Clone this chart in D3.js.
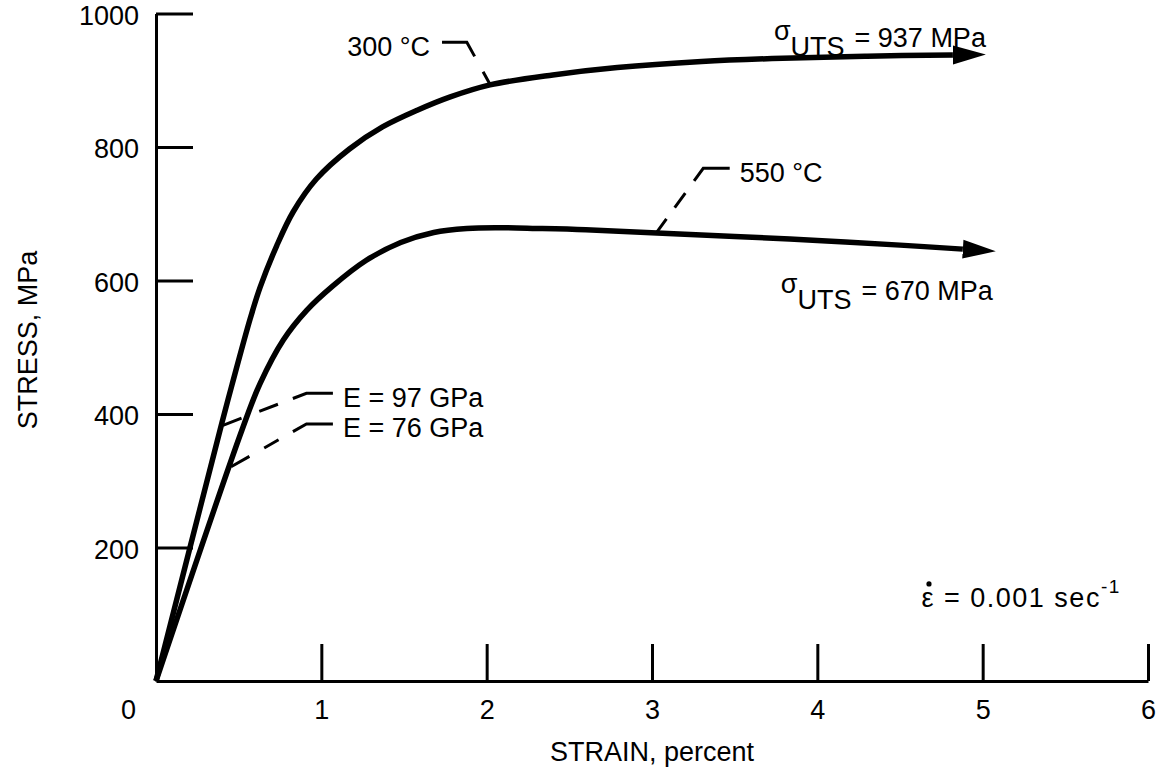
<!DOCTYPE html>
<html>
<head>
<meta charset="utf-8">
<script src="https://cdn.jsdelivr.net/npm/d3@7"></script>
<style>
  body { margin: 0; background: #fff; }
  svg { display: block; }
  text { font-family: "Liberation Sans", Arial, sans-serif; fill: #000; }
</style>
</head>
<body>
<div id="chart"></div>
<script>
// Values
var xTicks = [0, 1, 2, 3, 4, 5, 6];
var yTicks = [200, 400, 600, 800, 1000];

// 300 C curve (strain in percent, stress in MPa); last point is the arrow base
var strain300 = [0, 0.40, 0.46, 0.57, 0.63, 0.73, 0.83, 0.97, 1.17, 1.37, 1.58, 1.78, 2.02, 2.40, 2.79, 3.30, 3.79, 4.30, 4.82];
var stress300 = [0, 388, 444, 543, 590, 652, 703, 752, 797, 830, 855, 875, 893, 908, 919, 928, 933, 936, 938];

// 550 C curve
var strain550 = [0, 0.52, 0.63, 0.77, 0.91, 1.07, 1.27, 1.48, 1.68, 1.88, 2.08, 2.30, 2.60, 3.03, 3.50, 4.00, 4.50, 4.88];
var stress550 = [0, 376, 446, 511, 555, 592, 630, 657, 672, 678, 679, 678, 676, 671, 666, 660, 653, 647];

// leader lines (label end -> elbow -> curve), in data units
var leader300 = [[1.73, 957], [1.88, 957], [2.02, 894]];
var leader550 = [[3.47, 768], [3.31, 768], [3.025, 671]];
var leaderE97 = [[1.07, 431], [0.91, 431], [0.405, 383]];
var leaderE76 = [[1.07, 385], [0.91, 385], [0.454, 321]];

var W = 1161, H = 776;

var svg = d3.select('#chart').append('svg')
    .attr('width', W)
    .attr('height', H);

// scales
var x = d3.scaleLinear().domain([0, 6]).range([156, 1148]);
var y = d3.scaleLinear().domain([0, 1000]).range([681, 13.5]);

// arrow head
svg.append('defs').append('marker')
    .attr('id', 'arrow')
    .attr('markerUnits', 'userSpaceOnUse')
    .attr('viewBox', '0 -10 34 20')
    .attr('refX', 0).attr('refY', 0)
    .attr('markerWidth', 34).attr('markerHeight', 20)
    .attr('orient', 'auto')
    .append('path')
    .attr('d', 'M0,-9.5L33,0L0,9.5Z')
    .attr('fill', '#000');

// x axis, ticks pointing up into the plot
var gx = svg.append('g')
    .attr('transform', 'translate(0,' + y(0) + ')')
    .call(d3.axisBottom(x).tickValues(xTicks).tickSize(-37).tickSizeOuter(0).tickPadding(19)
        .tickFormat(d3.format('d')));

// y axis, ticks pointing right
var gy = svg.append('g')
    .attr('transform', 'translate(' + x(0) + ',0)')
    .call(d3.axisLeft(y).tickValues(yTicks).tickSize(-37).tickSizeOuter(0).tickPadding(17)
        .tickFormat(d3.format('d')));

[gx, gy].forEach(function (g) {
    g.select('.domain').attr('stroke', '#000').attr('stroke-width', 3);
    g.selectAll('.tick line').attr('stroke', '#000').attr('stroke-width', 3);
    g.selectAll('.tick text')
        .style('font-family', '"Liberation Sans", Arial, sans-serif')
        .style('font-size', '27px')
        .attr('fill', '#000');
});
gy.selectAll('.tick text').attr('dy', '0.4em');
// the zero tick has no mark, only its label sitting left of the corner
gx.selectAll('.tick').filter(function (d) { return d === 0; })
    .select('line').remove();
gx.selectAll('.tick').filter(function (d) { return d === 0; })
    .select('text').attr('x', -28);

// axis titles
svg.append('text')
    .attr('x', 652)
    .attr('y', 761)
    .attr('text-anchor', 'middle')
    .style('font-size', '27px')
    .text('STRAIN, percent');

svg.append('text')
    .attr('transform', 'translate(37,340) rotate(-90)')
    .attr('text-anchor', 'middle')
    .style('font-size', '27px')
    .text('STRESS, MPa');

// curves
var line = d3.line()
    .x(function (d) { return x(d[0]); })
    .y(function (d) { return y(d[1]); })
    .curve(d3.curveCatmullRom.alpha(0.5));

var curves = [
    d3.zip(strain300, stress300),
    d3.zip(strain550, stress550)
];

svg.selectAll('.curve')
    .data(curves)
    .enter().append('path')
    .attr('class', 'curve')
    .attr('d', line)
    .attr('fill', 'none')
    .attr('stroke', '#000')
    .attr('stroke-width', 5.5)
    .attr('stroke-linejoin', 'round')
    .attr('marker-end', 'url(#arrow)');

// leader lines
var straight = d3.line()
    .x(function (d) { return x(d[0]); })
    .y(function (d) { return y(d[1]); });

var leaders = [
    { pts: leader300, dash: '41,17.5,30' },
    { pts: leader550, dash: '42,15,18,14,30' },
    { pts: leaderE97, dash: '41,16,20,19,30' },
    { pts: leaderE76, dash: '42,16.5,16.5,17,30' }
];

svg.selectAll('.leader')
    .data(leaders)
    .enter().append('path')
    .attr('class', 'leader')
    .attr('d', function (d) { return straight(d.pts); })
    .attr('fill', 'none')
    .attr('stroke', '#000')
    .attr('stroke-width', 3)
    .attr('stroke-dasharray', function (d) { return d.dash; });

// leader labels
function label(pt, dx, dy, anchor, txt) {
    svg.append('text')
        .attr('x', x(pt[0]) + dx)
        .attr('y', y(pt[1]) + dy)
        .attr('text-anchor', anchor)
        .style('font-size', '27px')
        .text(txt);
}
label(leader300[0], -12, 14, 'end', '300 \u00B0C');
label(leader550[0], 10, 14, 'start', '550 \u00B0C');
label(leaderE97[0], 10, 14, 'start', 'E = 97 GPa');
label(leaderE76[0], 10, 13, 'start', 'E = 76 GPa');

// ultimate strength labels, placed off the arrow tips
function uts(pts, dx, dy, val) {
    var last = pts[pts.length - 1];
    var t = svg.append('text')
        .attr('x', x(last[0]) + 33 + dx)
        .attr('y', y(last[1]) + dy)
        .attr('text-anchor', 'end')
        .style('font-size', '27px');
    t.append('tspan').attr('dy', -7).text('\u03C3');
    t.append('tspan').attr('dy', 16).text('UTS');
    t.append('tspan').attr('dy', -9).attr('dx', 10).text('= ' + val + ' MPa');
}
uts(curves[0], 0, -8, 937);
uts(curves[1], -3, 51, 670);

// strain rate note: epsilon with a dot over it
var nx = x(4.63), ny = y(111);
var note = svg.append('text')
    .attr('x', nx)
    .attr('y', ny)
    .style('font-size', '27px')
    .style('letter-spacing', '1.5px');
note.append('tspan').text('\u03B5 = 0.001 sec');
note.append('tspan').attr('dy', -14).style('font-size', '19px').text('-1');
svg.append('circle')
    .attr('cx', nx + 7.5)
    .attr('cy', ny - 23)
    .attr('r', 2.6)
    .attr('fill', '#000');
</script>
</body>
</html>
